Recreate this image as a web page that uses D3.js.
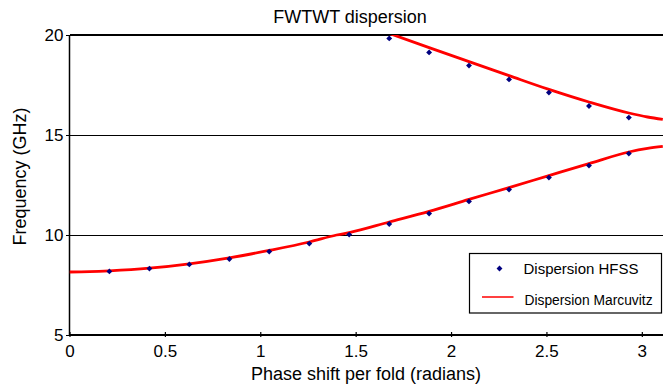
<!DOCTYPE html>
<html>
<head>
<meta charset="utf-8">
<script src="https://cdn.jsdelivr.net/npm/d3@7"></script>
<style>
  body { margin: 0; background: #fff; }
  svg { display: block; font-family: "Liberation Sans", Arial, sans-serif; }
</style>
</head>
<body>
<div id="chart"></div>
<script>
// HFSS simulated points (phase shift in radians, frequency in GHz)
var hfssPhase = [0.209, 0.419, 0.628, 0.838, 1.047, 1.257, 1.466, 1.676, 1.885, 2.094, 2.304, 2.513, 2.723, 2.932];
var hfssLower = [8.18, 8.32, 8.53, 8.80, 9.17, 9.57, 10.02, 10.55, 11.07, 11.68, 12.27, 12.87, 13.47, 14.07];
var hfssUpperPhase = [1.676, 1.885, 2.094, 2.304, 2.513, 2.723, 2.932];
var hfssUpper = [19.83, 19.13, 18.47, 17.78, 17.12, 16.45, 15.87];

// Marcuvitz curve
var marcLowerPhase = [0, 0.105, 0.209, 0.419, 0.628, 0.838, 1.047, 1.257, 1.40, 1.466, 1.676, 1.885, 2.094, 2.304, 2.513, 2.723, 2.932, 3.03, 3.11];
var marcLower = [8.15, 8.17, 8.21, 8.34, 8.56, 8.86, 9.23, 9.65, 10.0, 10.12, 10.65, 11.18, 11.78, 12.37, 12.97, 13.57, 14.15, 14.33, 14.43];
var marcUpperPhase = [1.676, 1.885, 2.094, 2.304, 2.513, 2.723, 2.932, 3.03, 3.11];
var marcUpper = [20.08, 19.37, 18.67, 17.97, 17.28, 16.65, 16.10, 15.90, 15.78];

var xTicks = [0, 0.5, 1, 1.5, 2, 2.5, 3];
var yTicks = [5, 10, 15, 20];
var legendLabels = ["Dispersion HFSS", "Dispersion Marcuvitz"];

var width = 663, height = 384;
var plotLeft = 69.5, plotRight = 663, plotTop = 35, plotBottom = 335;

var svg = d3.select("#chart").append("svg")
    .attr("width", width)
    .attr("height", height);

var x = d3.scaleLinear().domain([0, 3.111]).range([plotLeft, plotRight]);
var y = d3.scaleLinear().domain([5, 20]).range([plotBottom, plotTop]);

svg.append("defs").append("clipPath").attr("id", "plotclip")
  .append("rect")
    .attr("x", plotLeft).attr("y", plotTop)
    .attr("width", plotRight - plotLeft).attr("height", plotBottom - plotTop);

// horizontal grid lines
svg.append("g")
  .selectAll("line")
  .data(yTicks.filter(function(d) { return d > 5; }))
  .enter().append("line")
    .attr("x1", plotLeft).attr("x2", plotRight)
    .attr("y1", function(d) { return y(d) + (d === 20 ? 0 : 0.5); })
    .attr("y2", function(d) { return y(d) + (d === 20 ? 0 : 0.5); })
    .attr("stroke", "#000")
    .attr("shape-rendering", "crispEdges")
    .attr("stroke-width", function(d) { return d === 20 ? 2 : 1; });

// axes
var yAxis = svg.append("g")
    .attr("transform", "translate(" + plotLeft + ",0)")
    .call(d3.axisLeft(y).tickValues(yTicks).tickSize(4).tickPadding(2).tickFormat(d3.format("d")));
yAxis.select(".domain").attr("stroke-width", 1.5).attr("d", "M0," + plotTop + "V" + plotBottom);
yAxis.selectAll(".tick line").attr("shape-rendering", "crispEdges");
yAxis.selectAll("text").attr("font-size", 17).attr("fill", "#000");

var xAxis = svg.append("g")
    .attr("transform", "translate(0," + plotBottom + ")")
    .call(d3.axisBottom(x).tickValues(xTicks).tickSize(-3).tickFormat(function(d) { return d3.format("")(d); }));
xAxis.select(".domain").attr("stroke-width", 2).attr("shape-rendering", "crispEdges")
    .attr("d", "M" + plotLeft + ",0H" + plotRight);
xAxis.selectAll(".tick line").attr("y1", 2).attr("stroke-width", 1.2);
xAxis.selectAll("text").attr("font-size", 17).attr("fill", "#000").attr("y", 10);

// curves
var line = d3.line()
    .x(function(d) { return x(d[0]); })
    .y(function(d) { return y(d[1]); })
    .curve(d3.curveMonotoneX);

var curves = [d3.zip(marcLowerPhase, marcLower), d3.zip(marcUpperPhase, marcUpper)];
svg.append("g").attr("clip-path", "url(#plotclip)")
  .selectAll("path")
  .data(curves)
  .enter().append("path")
    .attr("d", line)
    .attr("fill", "none")
    .attr("stroke", "#ff0000")
    .attr("stroke-width", 2.8);

// HFSS markers
var diamond = d3.symbol().type(d3.symbolDiamond2 || d3.symbolDiamond).size(22);
var pts = d3.zip(hfssPhase, hfssLower).concat(d3.zip(hfssUpperPhase, hfssUpper));
svg.append("g")
  .selectAll("path")
  .data(pts)
  .enter().append("path")
    .attr("d", diamond)
    .attr("transform", function(d) { return "translate(" + x(d[0]) + "," + y(d[1]) + ")"; })
    .attr("fill", "#000080");

// titles
svg.append("text")
    .attr("x", 350).attr("y", 22.5)
    .attr("text-anchor", "middle")
    .attr("font-size", 18)
    .text("FWTWT dispersion");

svg.append("text")
    .attr("transform", "translate(26,176.5) rotate(-90)")
    .attr("text-anchor", "middle")
    .attr("font-size", 18)
    .text("Frequency (GHz)");

svg.append("text")
    .attr("x", 366).attr("y", 380)
    .attr("text-anchor", "middle")
    .attr("font-size", 18)
    .text("Phase shift per fold (radians)");

// legend
var legend = svg.append("g");
legend.append("rect")
    .attr("x", 469.5).attr("y", 253.5)
    .attr("width", 192).attr("height", 59.5)
    .attr("fill", "#fff")
    .attr("stroke", "#000")
    .attr("stroke-width", 1.2);
legend.append("path")
    .attr("d", diamond)
    .attr("transform", "translate(499.5,268.5)")
    .attr("fill", "#000080");
legend.append("text")
    .attr("x", 523.5).attr("y", 273.5)
    .attr("font-size", 15)
    .text(legendLabels[0]);
legend.append("line")
    .attr("x1", 482).attr("x2", 513.5)
    .attr("y1", 297).attr("y2", 297)
    .attr("stroke", "#ff0000")
    .attr("stroke-width", 1.5);
legend.append("text")
    .attr("x", 524.5).attr("y", 305)
    .attr("font-size", 13.8)
    .text(legendLabels[1]);
</script>
</body>
</html>
